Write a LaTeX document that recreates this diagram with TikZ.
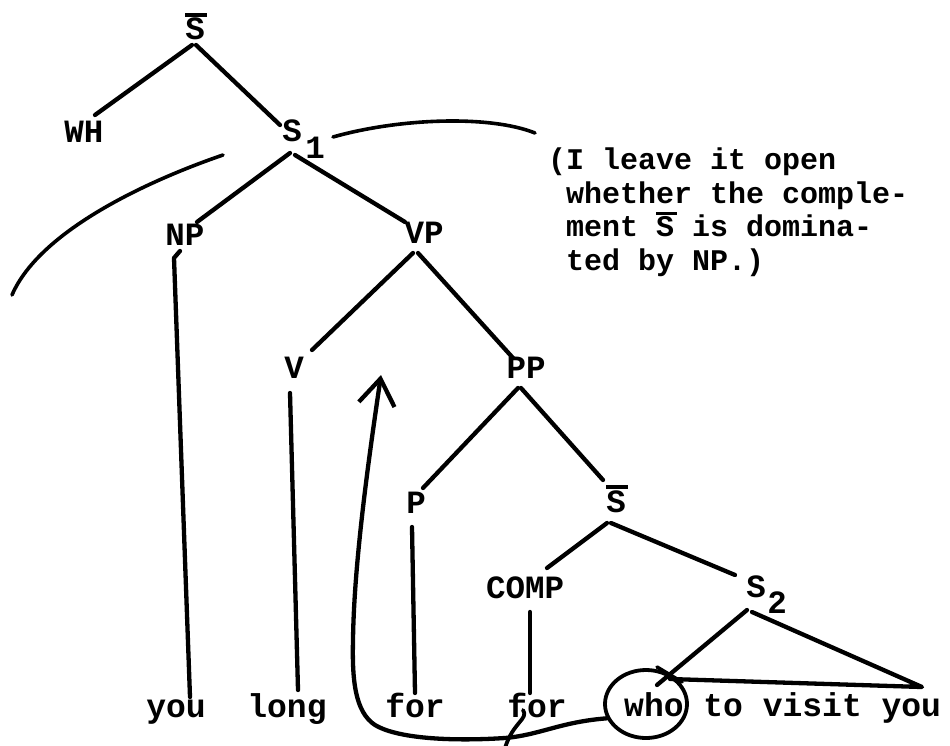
\documentclass[tikz,border=0pt]{standalone}
\usepackage{fontspec}
\setmonofont{Liberation Mono}
\usetikzlibrary{shapes.geometric,arrows.meta}
\newcommand\Sbar{\leavevmode\rlap{\rule[0.72em]{0.68em}{0.1em}}S}
\begin{document}
\begin{tikzpicture}[x=1pt,y=-1pt,line cap=round,line join=round,
  lab/.style={font=\ttfamily\bfseries\fontsize{32.5}{36}\selectfont,anchor=base,inner sep=0pt},
  word/.style={font=\ttfamily\bfseries\fontsize{33}{36}\selectfont,anchor=base,inner sep=0pt},
  notetext/.style={font=\ttfamily\bfseries\fontsize{30}{33.5}\selectfont,anchor=base west,align=left,inner sep=0pt},
  branch/.style={draw=black,line width=4.3pt},
  thin/.style={draw=black,line width=3.6pt}]
\fill[white] (0,0) rectangle (950,746);
\useasboundingbox (0,0) rectangle (950,746);
% tree labels
\node[lab] (sbar) at (195,40) {\Sbar};
\node[lab] (wh) at (84,143) {WH};
\node[lab] (s1) at (292,142) {S};
\node[lab] (s1sub) at (315,159) {1};
\node[lab] (np) at (185,245) {NP};
\node[lab] (vp) at (424,243) {VP};
\node[lab] (v) at (294,378) {V};
\node[lab] (pp) at (526,378) {PP};
\node[lab] (p) at (416,513) {P};
\node[lab] (sbarb) at (616,512) {\Sbar};
\node[lab] (comp) at (525,598) {COMP};
\node[lab] (s2) at (756,597) {S};
\node[lab] (s2sub) at (777,613) {2};
% words
\node[word] (wyou) at (176,717) {you};
\node[word] (wlong) at (287,717) {long};
\node[word] (wfor) at (415,717) {for};
\node[word] (wforb) at (537,717) {for};
\node[word,anchor=base west] (wrest) at (624,716) {who to visit you};
% note (base = baseline of last line)
\node[notetext] (note) at (548,270) {(I leave it open\\\hphantom{(}whether the comple-\\\hphantom{(}ment \Sbar{} is domina-\\\hphantom{(}ted by NP.)};
% branches
\draw[branch] ([shift={(-3,5)}]sbar.base) -- ([shift={(11,-28)}]wh.base);
\draw[branch] ([shift={(1,5)}]sbar.base) -- ([shift={(-12,-17)}]s1.base);
\draw[branch] ([shift={(-2,11)}]s1.base) -- ([shift={(12,-23)}]np.base);
\draw[branch] ([shift={(3,13)}]s1.base) -- ([shift={(-19,-21)}]vp.base);
\draw[branch] ([shift={(-5,6)}]np.base) -- ([shift={(-11,13)}]np.base) -- ([shift={(14,-20)}]wyou.base);
\draw[branch] ([shift={(-11,10)}]vp.base) -- ([shift={(18,-28)}]v.base);
\draw[branch] ([shift={(-6,10)}]vp.base) -- ([shift={(-13,-20)}]pp.base);
\draw[branch] ([shift={(-4,15)}]v.base) -- ([shift={(11,-27)}]wlong.base);
\draw[branch] ([shift={(-8,10)}]pp.base) -- ([shift={(7,-25)}]p.base);
\draw[branch] ([shift={(-5,10)}]pp.base) -- ([shift={(-13,-32)}]sbarb.base);
\draw[branch] ([shift={(-4,14)}]p.base) -- ([shift={(0,-24)}]wfor.base);
\draw[branch] ([shift={(-9,11)}]sbarb.base) -- ([shift={(22,-30)}]comp.base);
\draw[branch] ([shift={(-5,11)}]sbarb.base) -- ([shift={(-21,-22)}]s2.base);
\draw[branch] ([shift={(5,14)}]comp.base) -- ([shift={(-7,-24)}]wforb.base);
\draw[branch] ([shift={(-9,13)}]s2.base) -- ([shift={(33,-31)}]wrest.base west);
\draw[branch] ([shift={(-4,15)}]s2.base) -- ([shift={(298,-29)}]wrest.base west) -- ([shift={(46,-37)}]wrest.base west);
\draw[thin] ([shift={(33,-49)}]wrest.base west) -- ([shift={(58,-34)}]wrest.base west);
% brackets around S1
\draw[thin] (223,155) .. controls (150,180) and (40,230) .. (12,295);
\draw[thin] (333,137) .. controls (400,118) and (490,115) .. (535,133);
% circle and movement arrow
\node[draw,ellipse,line width=3.8pt,minimum width=82pt,minimum height=68pt,inner sep=0pt] (circ) at (646,704) {};
\coordinate (gap) at (381,375);
\draw[line width=4.3pt,-{Straight Barb[length=26pt,width=36pt,line width=4.3pt]}]
  (circ.200) .. controls (560,722) and (540,735) .. (505,738)
  .. controls (460,741) and (400,740) .. (375,725)
  .. controls (355,712) and (352,680) .. (353,640)
  .. controls (354,560) and (370,450) .. (gap);
\draw[line width=3.8pt] ([shift={(-14,-7)}]wforb.base) .. controls ([shift={(-8,2)}]wforb.base) and ([shift={(-24,5)}]wforb.base) .. ([shift={(-32,31)}]wforb.base);
\end{tikzpicture}
\end{document}
